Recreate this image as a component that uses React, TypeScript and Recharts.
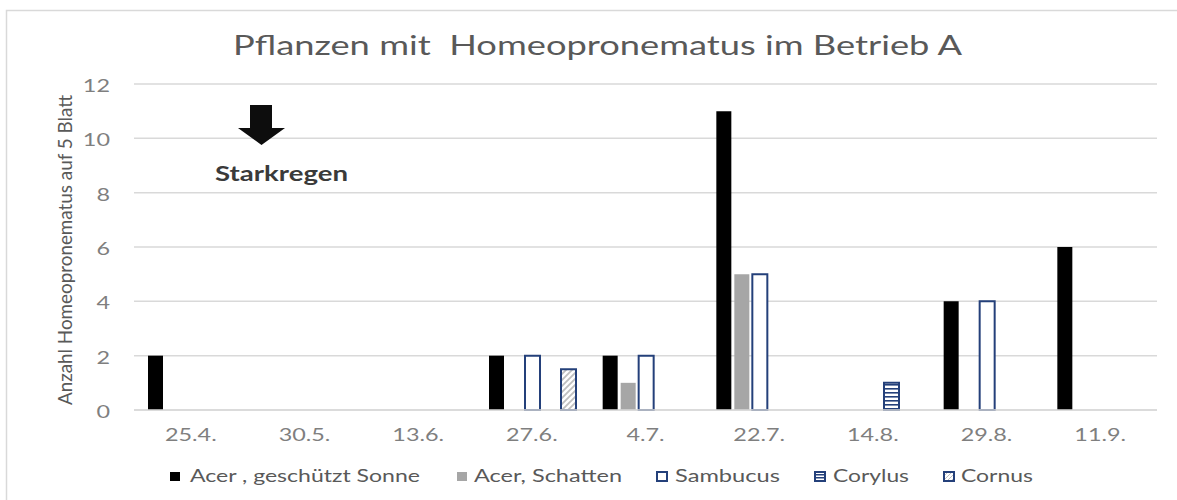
import { BarChart, Bar, XAxis, YAxis, CartesianGrid } from 'recharts'

const dates = ['25.4.', '30.5.', '13.6.', '27.6.', '4.7.', '22.7.', '14.8.', '29.8.', '11.9.']
const acerSonne = [2, null, null, 2, 2, 11, null, 4, 6]
const acerSchatten = [null, null, null, null, 1, 5, null, null, null]
const sambucus = [null, null, null, 2, 2, 5, null, 4, null]
const corylus = [null, null, null, null, null, null, 1, null, null]
const cornus = [null, null, null, 1.5, null, null, null, null, null]
const yTicks = [0, 2, 4, 6, 8, 10, 12]

const data = dates.map((d, i) => ({
  date: d,
  sonne: acerSonne[i],
  schatten: acerSchatten[i],
  sambucus: sambucus[i],
  corylus: corylus[i],
  cornus: cornus[i],
}))

const NAVY = '#24407a'
const TICK = '#7f7f7f'
const FONT = 'Lato, "Open Sans", sans-serif'

function XTick(props: any) {
  const { x, y, payload } = props
  return (
    <g transform={`translate(${x},${y})`}>
      <text transform="scale(1.3,1)" textAnchor="middle" dy="0.71em" fill={TICK} fontSize={18} fontFamily={FONT}>
        {payload.value}
      </text>
    </g>
  )
}

function YTick(props: any) {
  const { x, y, payload } = props
  return (
    <g transform={`translate(${x},${y})`}>
      <text transform="scale(1.3,1)" textAnchor="end" dy="0.45em" fill={TICK} fontSize={18} fontFamily={FONT}>
        {payload.value}
      </text>
    </g>
  )
}

const legendItems = [
  { label: 'Acer , geschützt Sonne', x: 170, tx: 190, len: 230, fill: '#000', stroke: 'none' },
  { label: 'Acer, Schatten', x: 457, tx: 474, len: 148, fill: '#a6a6a6', stroke: 'none' },
  { label: 'Sambucus', x: 657, tx: 675, len: 105, fill: '#fff', stroke: NAVY },
  { label: 'Corylus', x: 815, tx: 833, len: 76, fill: 'url(#lgStripes)', stroke: NAVY },
  { label: 'Cornus', x: 944, tx: 961, len: 72, fill: 'url(#lgHatch)', stroke: NAVY },
]

export default function App() {
  return (
    <div style={{ position: 'fixed', left: 0, top: 0, width: 1177, height: 500, background: '#fff' }}>
      <BarChart
        width={1177}
        height={500}
        data={data}
        margin={{ top: 84, right: 20, left: 0, bottom: 60 }}
        barCategoryGap={14}
        barGap={3}
      >
        <defs>
          <pattern id="stripes" width="6" height="4" patternUnits="userSpaceOnUse">
            <rect width="6" height="4" fill="#fff" />
            <rect y="0" width="6" height="1.6" fill={NAVY} />
          </pattern>
          <pattern id="hatch" width="6" height="6" patternUnits="userSpaceOnUse">
            <rect width="6" height="6" fill="#fff" />
            <path d="M-1,7 L7,-1 M-4,4 L4,-4 M2,10 L10,2" stroke="#bfbfbf" strokeWidth="1.8" />
          </pattern>
        </defs>
        <CartesianGrid vertical={false} stroke="#d9d9d9" strokeWidth={1.5} />
        <XAxis
          dataKey="date"
          height={30}
          tickSize={0}
          tickMargin={18}
          tickLine={false}
          axisLine={{ stroke: '#d9d9d9', strokeWidth: 1.5 }}
          tick={<XTick />}
          interval={0}
        />
        <YAxis
          width={134}
          domain={[0, 12]}
          ticks={yTicks}
          tickSize={0}
          tickMargin={24}
          axisLine={false}
          tickLine={false}
          tick={<YTick />}
        />
        <Bar dataKey="sonne" fill="#000" isAnimationActive={false} />
        <Bar dataKey="schatten" fill="#a6a6a6" isAnimationActive={false} />
        <Bar dataKey="sambucus" fill="#fff" stroke={NAVY} strokeWidth={2} isAnimationActive={false} />
        <Bar dataKey="corylus" fill="url(#stripes)" stroke={NAVY} strokeWidth={2} isAnimationActive={false} />
        <Bar dataKey="cornus" fill="url(#hatch)" stroke={NAVY} strokeWidth={2} isAnimationActive={false} />
      </BarChart>

      <svg
        width={1177}
        height={500}
        style={{ position: 'absolute', left: 0, top: 0, pointerEvents: 'none' }}
        fontFamily={FONT}
      >
        <defs>
          <pattern id="lgStripes" width="6" height="3" patternUnits="userSpaceOnUse">
            <rect width="6" height="3" fill="#fff" />
            <rect width="6" height="1.5" fill={NAVY} />
          </pattern>
          <pattern id="lgHatch" width="4" height="4" patternUnits="userSpaceOnUse">
            <rect width="4" height="4" fill="#fff" />
            <path d="M-1,5 L5,-1" stroke="#bfbfbf" strokeWidth="1" />
          </pattern>
        </defs>
        <rect x={6.5} y={10.5} width={1300} height={600} fill="none" stroke="#d9d9d9" strokeWidth={1.5} />

        <text x={233} y={55} fontSize={26} fill="#595959" textLength={729} lengthAdjust="spacingAndGlyphs">
          {'Pflanzen mit\u00a0 Homeopronematus im Betrieb A'}
        </text>

        <text
          x={72}
          y={250}
          fontSize={19}
          fill="#595959"
          textAnchor="middle"
          transform="rotate(-90 72 250)"
          textLength={310}
          lengthAdjust="spacingAndGlyphs"
        >
          Anzahl Homeopronematus auf 5 Blatt
        </text>

        <polygon points="250,105 272,105 272,128 285,128 261.5,145 238,128 250,128" fill="#0d0d0d" />
        <text x={215} y={181} fontSize={21} fontWeight={700} fill="#3a3a3a" textLength={133} lengthAdjust="spacingAndGlyphs">
          Starkregen
        </text>

        {legendItems.map(it => (
          <g key={it.label}>
            <rect
              x={it.x}
              y={472}
              width={10}
              height={9}
              fill={it.fill}
              stroke={it.stroke}
              strokeWidth={it.stroke === 'none' ? 0 : 2}
            />
            <text x={it.tx} y={482} fontSize={18} fill="#595959" textLength={it.len} lengthAdjust="spacingAndGlyphs">
              {it.label}
            </text>
          </g>
        ))}
      </svg>
    </div>
  )
}
